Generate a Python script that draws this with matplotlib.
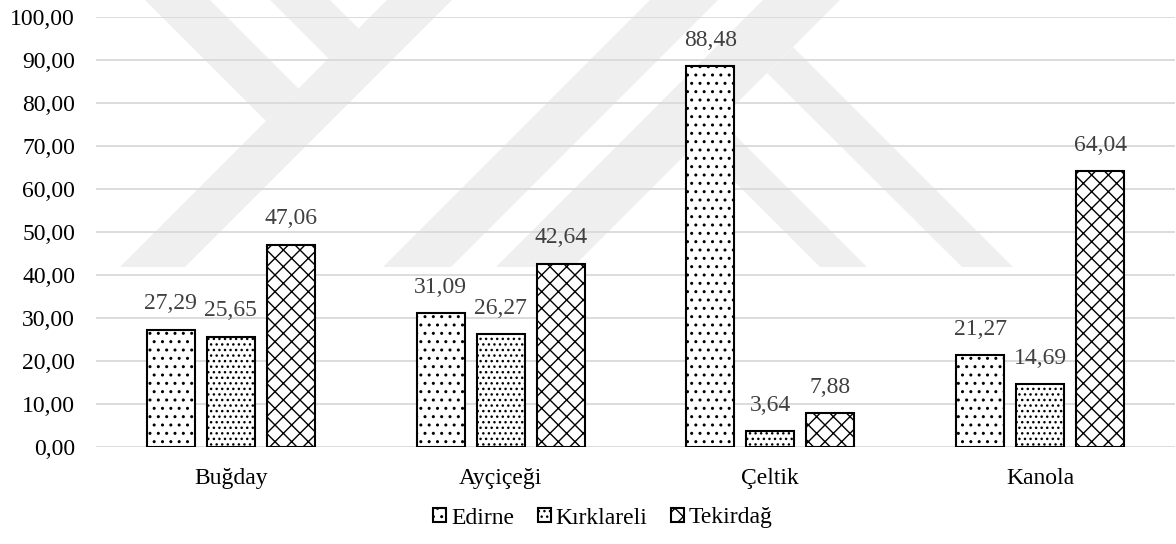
import numpy as np
import matplotlib
matplotlib.use('Agg')
from matplotlib import pyplot as plt
from matplotlib.patches import Polygon

categories = ['Buğday', 'Ayçiçeği', 'Çeltik', 'Kanola']
series_names = ['Edirne', 'Kırklareli', 'Tekirdağ']
edirne = [27.29, 31.09, 88.48, 21.27]
kirklareli = [25.65, 26.27, 3.64, 14.69]
tekirdag = [47.06, 42.64, 7.88, 64.04]
yticks = np.arange(0, 101, 10)

plt.rcParams['font.family'] = ['Liberation Serif', 'DejaVu Serif']
plt.rcParams['hatch.linewidth'] = 1.0

W, H = 1176, 544
fig = plt.figure(figsize=(W / 100, H / 100), dpi=100)
ax = fig.add_axes([96 / W, 1 - 447 / H, (1175 - 96) / W, (447 - 16.7) / H])
ax.patch.set_visible(False)

# faint logo stripes behind the plot (pixel coords, origin top-left)
logo = [
    [(145, 0), (210, 0), (298.5, 88.5), (266, 121)],
    [(270, 0), (330, 0), (358.5, 28.5), (328.5, 58.5)],
    [(120, 267), (185, 267), (452, 0), (387, 0)],
    [(383, 267), (451, 267), (718, 0), (650, 0)],
    [(496, 267), (573, 267), (840, 0), (763, 0)],
    [(793, 47), (1013, 267), (962, 267), (767, 73)],
    [(681.5, 81.5), (867, 267), (820, 267), (658, 105)],
]
for pts in logo:
    xy = [(px / W, 1 - py / H) for px, py in pts]
    fig.add_artist(Polygon(xy, closed=True, transform=fig.transFigure,
                           facecolor='#efefef', edgecolor='none', zorder=-5))

x = np.arange(len(categories))
width = 0.178
step = 0.2225
hatches = ['..', '...', 'xx']

for i, (vals, name, hatch) in enumerate(zip([edirne, kirklareli, tekirdag], series_names, hatches)):
    bars = ax.bar(x + (i - 1) * step, vals, width, color='white', edgecolor='black',
                  linewidth=1.5, hatch=hatch, label=name, zorder=3)
    labels = [f'{v:.2f}'.replace('.', ',') for v in vals]
    ax.bar_label(bars, labels=labels, padding=11, color='#404040', fontsize=17)

ax.set_xlim(-0.5, len(categories) - 0.5)
ax.set_ylim(0, 100)
ax.set_xticks(x)
ax.set_xticklabels(categories)
ax.set_yticks(yticks)
ax.set_yticklabels([f'{t:.2f}'.replace('.', ',') for t in yticks])
ax.yaxis.grid(True, color='#d9d9d9', linewidth=1.3)
ax.set_axisbelow(True)
for s in ax.spines.values():
    s.set_visible(False)
ax.tick_params(axis='y', length=0, labelsize=17, pad=15)
ax.tick_params(axis='x', length=0, labelsize=17, pad=15)

fig.legend(loc='center', bbox_to_anchor=(603 / W, 1 - 518 / H), ncol=3, frameon=False,
           fontsize=17, handlelength=0.55, handleheight=0.55, handletextpad=0.2,
           columnspacing=1.0)

fig.savefig('out.png', dpi=100)
